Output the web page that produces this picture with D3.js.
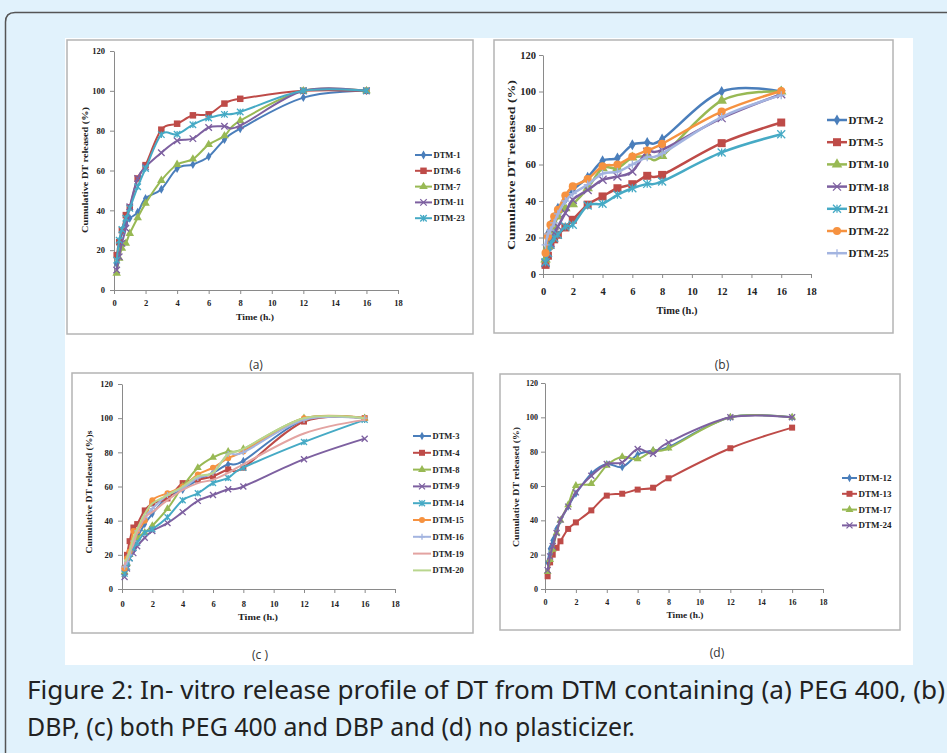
<!DOCTYPE html>
<html>
<head>
<meta charset="UTF-8">
<title>In-vitro release profile of DT</title>
<script src="https://d3js.org/d3.v7.min.js"></script>
<style>
  body { margin: 0; background: #e1f2fc; }
  svg { display: block; }
</style>
</head>
<body>
<div id="chart"></div>
<script>
// sampling times (h.)
const times = [0.17, 0.33, 0.5, 0.75, 1, 1.5, 2, 3, 4, 5, 6, 7, 8, 12, 16];
const xTicks = [0, 2, 4, 6, 8, 10, 12, 14, 16, 18];
const yTicks = [0, 20, 40, 60, 80, 100, 120];

// (a) PEG 400
const dtm1 = [13, 21, 29, 33, 36, 39, 46, 50.6, 61, 63, 67, 75.5, 81, 96.6, 100];
const dtm6 = [17.5, 24, 30, 37.6, 41.5, 56, 62.7, 80.5, 83.5, 87.7, 88.2, 93.6, 96, 100, 100];
const dtm7 = [8.4, 15.9, 21, 23.4, 28.4, 36.3, 43.5, 55, 63, 65.7, 73, 77.4, 85, 100, 100];
const dtm11 = [10, 16.7, 23.4, 31, 41.8, 56, 61.8, 68.9, 74.9, 76, 81.6, 82.2, 82.5, 100, 100];
const dtm23 = [15, 25, 30.4, 36, 41, 51.8, 61, 78, 78.2, 83, 86.4, 88.2, 89.4, 100, 100];
// (b) DBP
const dtm2 = [8, 22, 27, 31, 36, 41, 46, 53, 62, 63.5, 70.8, 72, 73.9, 100, 100];
const dtm5 = [5, 10, 16, 19, 21.5, 25.5, 29.7, 38, 42.5, 47, 49.2, 53.8, 54.3, 71.7, 83];
const dtm10 = [8, 15, 20.6, 26, 31.5, 36, 38.3, 47, 58, 58, 63.8, 64.4, 64.7, 95, 100];
const dtm18 = [6, 11.5, 17, 22.4, 26, 33.4, 40.7, 46, 51.6, 53.4, 56.2, 67, 68, 85.4, 98.5];
const dtm21 = [6.4, 11.5, 16, 19.7, 21.5, 26, 27, 37.5, 38.5, 43.4, 47, 49.4, 50.7, 66.6, 76.6];
const dtm22 = [11.5, 20.6, 27, 31.5, 35.2, 43, 48, 52, 59, 60, 64.4, 67.7, 71.3, 89, 100.3];
const dtm25 = [16, 22, 24, 28, 33, 40, 44, 49, 55, 56, 60, 64, 66, 86, 98];
// (c) PEG 400 and DBP
const dtm3 = [9, 14, 20, 25, 30, 38, 44, 54, 58, 64, 68, 73, 75, 99, 100];
const dtm4 = [12, 20, 28, 36, 38, 46, 50, 53, 62, 64, 66, 70, 71, 98, 100];
const dtm8 = [10, 15, 20, 26, 30, 33, 37, 47, 60, 71, 77, 80.5, 82, 100, 100];
const dtm9 = [7, 12, 18, 21, 25, 30, 34, 38.6, 45, 51.6, 55, 58.4, 60, 76, 88];
const dtm14 = [9, 13, 18, 24, 27, 33, 35, 42, 52, 56, 62, 65, 71, 86, 99];
const dtm15 = [12, 18, 22, 34, 34, 40, 52, 56, 60, 67, 71, 76.6, 80.5, 100, 100];
const dtm16 = [13, 16, 20, 28, 34, 42, 47, 55, 59, 65, 68, 79, 80, 99, 100];
const dtm19 = [14, 18, 22, 26, 33, 42, 45, 52, 58, 62, 64, 68, 73, 91, 99];
const dtm20 = [16, 18, 22, 30, 35, 44, 50, 55, 60, 66, 68, 79, 82, 100, 100];
// (d) no plasticizer
const dtm12 = [15.5, 23.5, 28.3, 35, 39.8, 48, 55.5, 67.2, 72.8, 71, 78.3, 80.8, 82.7, 100, 100];
const dtm13 = [7.4, 15.5, 20, 24, 27.8, 35, 38.8, 45.8, 54.4, 55.5, 57.9, 59, 64.5, 82, 94];
const dtm17 = [10, 17, 23, 32.6, 40, 49, 60.2, 61.4, 72, 77, 75.7, 80.6, 82, 100, 100];
const dtm24 = [11, 19, 25, 32.6, 40.4, 48, 56.3, 66, 72.8, 73.8, 81.6, 78.8, 85.4, 100, 100];

const namesA = ["DTM-1", "DTM-6", "DTM-7", "DTM-11", "DTM-23"];
const valuesA = [dtm1, dtm6, dtm7, dtm11, dtm23];
const namesB = ["DTM-2", "DTM-5", "DTM-10", "DTM-18", "DTM-21", "DTM-22", "DTM-25"];
const valuesB = [dtm2, dtm5, dtm10, dtm18, dtm21, dtm22, dtm25];
const namesC = ["DTM-3", "DTM-4", "DTM-8", "DTM-9", "DTM-14", "DTM-15", "DTM-16", "DTM-19", "DTM-20"];
const valuesC = [dtm3, dtm4, dtm8, dtm9, dtm14, dtm15, dtm16, dtm19, dtm20];
const namesD = ["DTM-12", "DTM-13", "DTM-17", "DTM-24"];
const valuesD = [dtm12, dtm13, dtm17, dtm24];

// Excel-like series styles
const colors = ["#4a7ebb", "#be4b48", "#98b954", "#7d60a0", "#46aac5", "#f69240", "#a3b4e0", "#e3a3a1", "#b9d68e"];
const markers = ["diamond", "square", "triangle", "cross", "star", "circle", "plus", "none", "none"];

const W = 947, H = 753;
const svg = d3.select("#chart").append("svg").attr("width", W).attr("height", H);

// outer frame
svg.append("rect").attr("width", W).attr("height", H).attr("fill", "#e1f2fc");
svg.append("path")
  .attr("d", "M5.5,753 V22 Q5.5,12.5 15,12.5 H947")
  .attr("fill", "none").attr("stroke", "#555").attr("stroke-width", 1.5);
svg.append("rect").attr("x", 65).attr("y", 38).attr("width", 848).attr("height", 627).attr("fill", "#fff");

function drawMarker(g, type, cx, cy, s, color) {
  if (type === "none") return;
  if (type === "cross" || type === "star" || type === "plus") {
    const h = s / 2;
    let d;
    if (type === "cross") d = `M${cx-h},${cy-h}L${cx+h},${cy+h}M${cx-h},${cy+h}L${cx+h},${cy-h}`;
    else if (type === "star") d = `M${cx-h},${cy-h}L${cx+h},${cy+h}M${cx-h},${cy+h}L${cx+h},${cy-h}M${cx},${cy-h}L${cx},${cy+h}`;
    else d = `M${cx-h},${cy}L${cx+h},${cy}M${cx},${cy-h}L${cx},${cy+h}`;
    g.append("path").attr("d", d).attr("stroke", color).attr("stroke-width", 1.3).attr("fill", "none");
    return;
  }
  const sym = { diamond: d3.symbolDiamond, square: d3.symbolSquare, triangle: d3.symbolTriangle, circle: d3.symbolCircle }[type];
  const size = { diamond: s * s * 0.55, square: s * s, triangle: s * s * 0.75, circle: s * s * 0.8 }[type];
  g.append("path")
    .attr("d", d3.symbol().type(sym).size(size)())
    .attr("transform", `translate(${cx},${cy})`)
    .attr("fill", color);
}

function drawPanel(p) {
  const g = svg.append("g");
  g.append("rect")
    .attr("x", p.box[0]).attr("y", p.box[1]).attr("width", p.box[2]).attr("height", p.box[3])
    .attr("fill", "#fff").attr("stroke", "#b4b4b4").attr("stroke-width", 1.5);

  const x = d3.scaleLinear().domain([0, 18]).range([p.x0, p.x1]);
  const y = d3.scaleLinear().domain([0, 120]).range([p.y0, p.y1]);

  const font = "'Liberation Serif', 'Times New Roman', serif";

  const ya = g.append("g").attr("transform", `translate(${p.x0},0)`)
    .call(d3.axisLeft(y).tickValues(yTicks).tickSize(4).tickSizeOuter(0).tickPadding(p.tickGap - 4));
  const xa = g.append("g").attr("transform", `translate(0,${p.y0})`)
    .call(d3.axisBottom(x).tickValues(xTicks).tickSize(4).tickSizeOuter(0).tickPadding(p.xPad));
  [ya, xa].forEach(a => {
    a.select(".domain").attr("stroke", "#8a8a8a");
    a.selectAll(".tick line").attr("stroke", "#8a8a8a");
    a.selectAll("text").attr("font-family", font).attr("font-weight", "bold")
      .attr("font-size", p.fs).attr("fill", "#222");
  });

  const line = d3.line()
    .x((d, i) => x(times[i]))
    .y(d => y(d))
    .curve(d3.curveCatmullRom.alpha(0));

  p.values.forEach((vals, k) => {
    const sg = g.append("g");
    sg.append("path").attr("d", line(vals))
      .attr("fill", "none").attr("stroke", colors[k]).attr("stroke-width", p.lw);
    vals.forEach((v, i) => drawMarker(sg, markers[k], x(times[i]), y(v), p.ms, colors[k]));
  });

  // legend
  p.names.forEach((name, k) => {
    const ly = p.legY + k * p.legStep;
    g.append("line").attr("x1", p.legX).attr("x2", p.legX + p.legLen)
      .attr("y1", ly).attr("y2", ly).attr("stroke", colors[k]).attr("stroke-width", p.lw);
    drawMarker(g, markers[k], p.legX + p.legLen / 2, ly, p.ms, colors[k]);
    g.append("text").attr("x", p.legX + p.legLen + 1.5).attr("y", ly)
      .attr("dominant-baseline", "central")
      .attr("font-family", font).attr("font-weight", "bold").attr("font-size", p.legFs)
      .attr("fill", "#222").text(name);
  });

  // axis titles
  g.append("text").attr("x", p.xTitle[0]).attr("y", p.xTitle[1])
    .attr("text-anchor", "middle").attr("font-family", font).attr("font-weight", "bold")
    .attr("font-size", p.fs + 0.5).attr("fill", "#222")
    .attr("textLength", p.xTitle[2]).attr("lengthAdjust", "spacingAndGlyphs")
    .text("Time (h.)");
  g.append("text")
    .attr("transform", `translate(${p.yTitle[0]},${p.yTitle[1]}) rotate(-90)`)
    .attr("text-anchor", "middle").attr("dominant-baseline", "central")
    .attr("font-family", font).attr("font-weight", "bold")
    .attr("font-size", p.fs + 0.5).attr("fill", "#222")
    .attr("textLength", p.yTitle[2]).attr("lengthAdjust", "spacingAndGlyphs")
    .text(p.yTitleText);

  svg.append("text").attr("x", p.label[0]).attr("y", p.label[1])
    .attr("text-anchor", "middle").attr("font-family", "'Open Sans', sans-serif")
    .attr("font-size", 12).attr("fill", "#333").text(p.labelText);
}

drawPanel({
  box: [67, 40, 406, 294], x0: 114, x1: 398, y0: 290, y1: 51,
  names: namesA, values: valuesA, fs: 8.5, tickGap: 9, xPad: 6, ms: 6.5, lw: 2,
  legX: 415, legLen: 17, legY: 155, legStep: 15.8, legFs: 8.5,
  xTitle: [255, 320, 38], yTitle: [85, 170, 126], yTitleText: "Cumulative DT released (%)",
  label: [256, 369], labelText: "(a)"
});
drawPanel({
  box: [494, 40, 399, 293], x0: 543, x1: 811, y0: 274, y1: 55,
  names: namesB, values: valuesB, fs: 10.5, tickGap: 7, xPad: 10, ms: 8, lw: 2.5,
  legX: 827, legLen: 20, legY: 120, legStep: 22.2, legFs: 11,
  xTitle: [677, 314, 41], yTitle: [511, 165, 170], yTitleText: "Cumulative DT released (%)",
  label: [722, 369], labelText: "(b)"
});
drawPanel({
  box: [72, 373, 401, 260], x0: 122, x1: 395, y0: 589, y1: 384,
  names: namesC, values: valuesC, fs: 8.5, tickGap: 9, xPad: 8, ms: 6, lw: 2,
  legX: 413, legLen: 18, legY: 436, legStep: 16.8, legFs: 8.5,
  xTitle: [258, 620, 40], yTitle: [89, 492, 123], yTitleText: "Cumulative DT released (%)s",
  label: [260, 659], labelText: "(c )"
});
drawPanel({
  box: [500, 374, 400, 256], x0: 545, x1: 823, y0: 589, y1: 383,
  names: namesD, values: valuesD, fs: 8, tickGap: 7, xPad: 6, ms: 6, lw: 2,
  legX: 842, legLen: 15, legY: 478, legStep: 15.8, legFs: 9,
  xTitle: [685, 618, 37], yTitle: [516, 487, 120], yTitleText: "Cumulative DT released (%)",
  label: [717, 657], labelText: "(d)"
});

// figure caption
const capFont = "'Noto Sans', 'DejaVu Sans', sans-serif";
svg.append("text").attr("x", 27).attr("y", 699)
  .attr("font-family", capFont).attr("font-size", 25).attr("fill", "#222")
  .attr("textLength", 918).attr("lengthAdjust", "spacingAndGlyphs")
  .text("Figure 2: In- vitro release profile of DT from DTM containing (a) PEG 400, (b)");
svg.append("text").attr("x", 27).attr("y", 736)
  .attr("font-family", capFont).attr("font-size", 25).attr("fill", "#222")
  .attr("textLength", 608).attr("lengthAdjust", "spacingAndGlyphs")
  .text("DBP, (c) both PEG 400 and DBP and (d) no plasticizer.");
</script>
</body>
</html>
